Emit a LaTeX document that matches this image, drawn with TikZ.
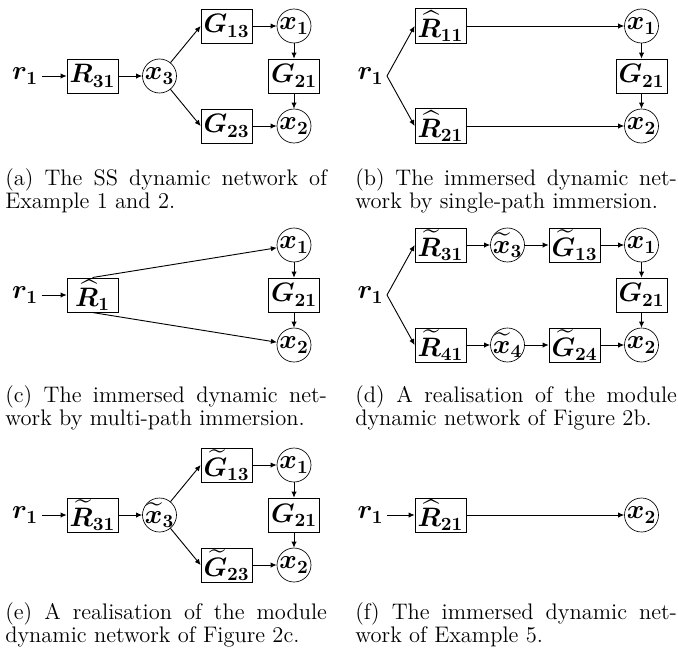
\documentclass[tikz,border=0pt]{standalone}
\usepackage{tikz}
\usetikzlibrary{positioning, arrows.meta}
\usepackage{amsmath}
\DeclareFontShape{OML}{cmm}{b}{it}{<->cmmib10}{}
\DeclareFontShape{OT1}{cmr}{bx}{n}{<->cmbx10}{}
\newcommand{\capfont}{\fontsize{13.5}{12}\selectfont}
\newcommand{\netfont}{\fontsize{16}{18}\selectfont\boldmath}

\begin{document}
\begin{tikzpicture}[x=0.6pt, y=-0.6pt,
        blk/.style={draw, minimum width=30.6pt, minimum height=20.4pt,
                    inner sep=1pt, font=\netfont},
        sig/.style={draw, circle, minimum size=20.4pt, inner sep=0pt,
                    font=\netfont},
        sigt/.style={sig, inner sep=-2.5pt},
        lbl/.style={inner sep=2pt, font=\netfont},
        subcap/.style={anchor=north west, text width=193pt, align=justify,
                    inner sep=0pt, font=\capfont},
        flow/.style={-{Latex[length=3.6pt, width=3.2pt]}, line width=0.55pt}]
  \useasboundingbox (0,0) rectangle (678,654);

  % (a)
  \node[lbl] (ra) at (25,76) {$r_1$};
  \node[blk] (Ra) at (92.5,76) {$R_{31}$};
  \node[sig] (x3a) at (159.5,76) {$x_3$};
  \node[blk] (G13a) at (226.5,26) {$G_{13}$};
  \node[sig] (x1a) at (294,26) {$x_1$};
  \node[blk] (G21a) at (294,76) {$G_{21}$};
  \node[blk] (G23a) at (226.5,126) {$G_{23}$};
  \node[sig] (x2a) at (294,126) {$x_2$};
  \draw[flow] (ra) -- (Ra);
  \draw[flow] (Ra) -- (x3a);
  \draw[flow] (x3a) -- (G13a.west);
  \draw[flow] (x3a) -- (G23a.west);
  \draw[flow] (G13a) -- (x1a);
  \draw[flow] (G23a) -- (x2a);
  \draw[flow] (x1a) -- (G21a);
  \draw[flow] (G21a) -- (x2a);
  \node[subcap] (capa) at (5,168)
        {(a) The SS dynamic network of\linebreak Example 1 and 2.};

  % (b)
  \node[lbl] (rb) at (370.5,76) {$r_1$};
  \node[blk] (R11b) at (440.5,26) {$\widehat{R}_{11}$};
  \node[blk] (R21b) at (440.5,126) {$\widehat{R}_{21}$};
  \node[sig] (x1b) at (641.5,26) {$x_1$};
  \node[blk] (G21b) at (641.5,76) {$G_{21}$};
  \node[sig] (x2b) at (641.5,126) {$x_2$};
  \draw[flow] (rb.east) -- (R11b.west);
  \draw[flow] (rb.east) -- (R21b.west);
  \draw[flow] (R11b) -- (x1b);
  \draw[flow] (R21b) -- (x2b);
  \draw[flow] (x1b) -- (G21b);
  \draw[flow] (G21b) -- (x2b);
  \node[subcap] (capb) at (355,168)
        {(b) The immersed dynamic net-\linebreak work by single-path immersion.};

  % (c)
  \node[lbl] (rc) at (25,295) {$r_1$};
  \node[blk] (R1c) at (92.5,295) {$\widehat{R}_1$};
  \node[sig] (x1c) at (294,245) {$x_1$};
  \node[blk] (G21c) at (294,295) {$G_{21}$};
  \node[sig] (x2c) at (294,345) {$x_2$};
  \draw[flow] (rc) -- (R1c);
  \draw[flow] (R1c.north) -- (x1c);
  \draw[flow] (R1c.south) -- (x2c);
  \draw[flow] (x1c) -- (G21c);
  \draw[flow] (G21c) -- (x2c);
  \node[subcap] (capc) at (5,385)
        {(c) The immersed dynamic net-\linebreak work by multi-path immersion.};

  % (d)
  \node[lbl] (rd) at (370.5,295) {$r_1$};
  \node[blk] (R31d) at (440.5,245) {$\widetilde{R}_{31}$};
  \node[sigt] (x3d) at (507.5,245) {$\widetilde{x}_3$};
  \node[blk] (G13d) at (574.5,245) {$\widetilde{G}_{13}$};
  \node[sig] (x1d) at (641.5,245) {$x_1$};
  \node[blk] (G21d) at (641.5,295) {$G_{21}$};
  \node[blk] (R41d) at (440.5,345) {$\widetilde{R}_{41}$};
  \node[sigt] (x4d) at (507.5,345) {$\widetilde{x}_4$};
  \node[blk] (G24d) at (574.5,345) {$\widetilde{G}_{24}$};
  \node[sig] (x2d) at (641.5,345) {$x_2$};
  \draw[flow] (rd.east) -- (R31d.west);
  \draw[flow] (rd.east) -- (R41d.west);
  \draw[flow] (R31d) -- (x3d);
  \draw[flow] (x3d) -- (G13d);
  \draw[flow] (G13d) -- (x1d);
  \draw[flow] (R41d) -- (x4d);
  \draw[flow] (x4d) -- (G24d);
  \draw[flow] (G24d) -- (x2d);
  \draw[flow] (x1d) -- (G21d);
  \draw[flow] (G21d) -- (x2d);
  \node[subcap] (capd) at (355,385)
        {(d) A realisation of the module\linebreak dynamic network of Figure 2b.};

  % (e)
  \node[lbl] (re) at (25,515) {$r_1$};
  \node[blk] (R31e) at (92.5,515) {$\widetilde{R}_{31}$};
  \node[sigt] (x3e) at (159.5,515) {$\widetilde{x}_3$};
  \node[blk] (G13e) at (226.5,465) {$\widetilde{G}_{13}$};
  \node[sig] (x1e) at (294,465) {$x_1$};
  \node[blk] (G21e) at (294,515) {$G_{21}$};
  \node[blk] (G23e) at (226.5,565) {$\widetilde{G}_{23}$};
  \node[sig] (x2e) at (294,565) {$x_2$};
  \draw[flow] (re) -- (R31e);
  \draw[flow] (R31e) -- (x3e);
  \draw[flow] (x3e) -- (G13e.west);
  \draw[flow] (x3e) -- (G23e.west);
  \draw[flow] (G13e) -- (x1e);
  \draw[flow] (G23e) -- (x2e);
  \draw[flow] (x1e) -- (G21e);
  \draw[flow] (G21e) -- (x2e);
  \node[subcap] (cape) at (5,602)
        {(e) A realisation of the module\linebreak dynamic network of Figure 2c.};

  % (f)
  \node[lbl] (rf) at (370.5,515) {$r_1$};
  \node[blk] (R21f) at (440.5,515) {$\widehat{R}_{21}$};
  \node[sig] (x2f) at (641.5,515) {$x_2$};
  \draw[flow] (rf) -- (R21f);
  \draw[flow] (R21f) -- (x2f);
  \node[subcap] (capf) at (355,602)
        {(f) The immersed dynamic net-\linebreak work of Example 5.};
\end{tikzpicture}
\end{document}
